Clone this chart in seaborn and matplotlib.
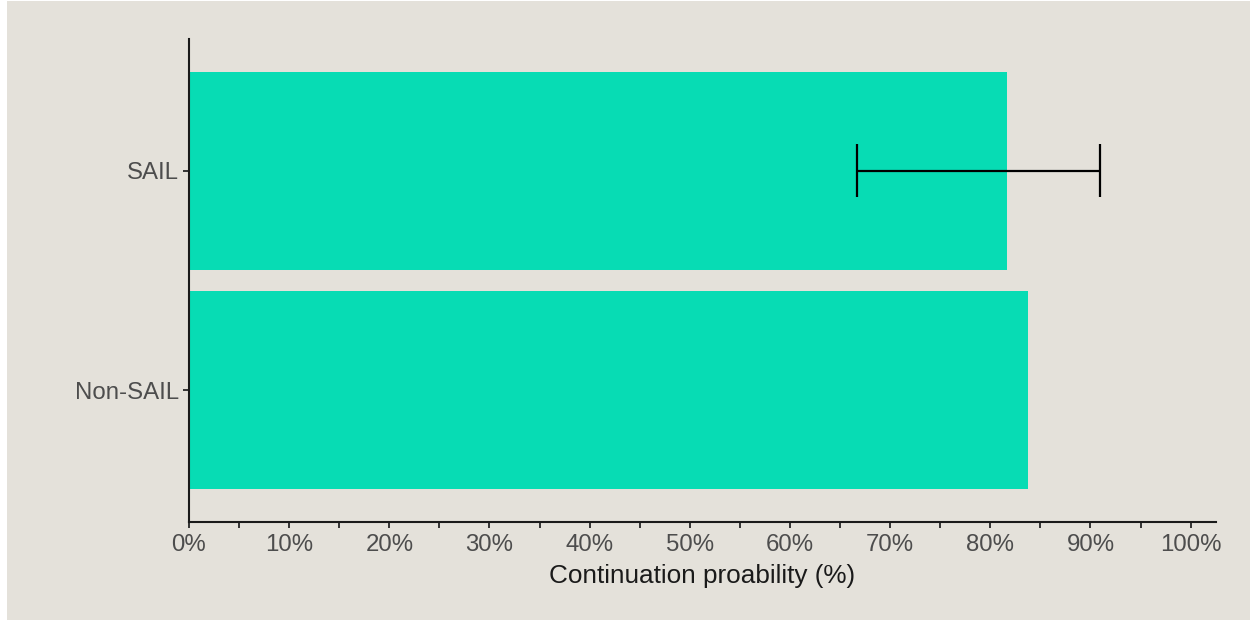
import numpy as np
import pandas as pd
import matplotlib
matplotlib.use("Agg")
import matplotlib.pyplot as plt
import seaborn as sns
from matplotlib.patches import Rectangle

# Continuation probability by group (%)
groups = ["SAIL", "Non-SAIL"]
probability = [81.7, 83.8]
ci_lower = [66.7, np.nan]
ci_upper = [90.9, np.nan]
x_ticks = list(range(0, 101, 10))
x_tick_labels = [f"{t}%" for t in x_ticks]

BG = "#e4e1da"
BAR = "#07dcb4"

sns.set_theme(style="ticks")
plt.rcParams["font.family"] = ["Liberation Sans", "DejaVu Sans"]

df = pd.DataFrame({"group": groups, "probability": probability,
                   "lo": ci_lower, "hi": ci_upper})

fig = plt.figure(figsize=(12.5, 6.2), dpi=100, facecolor="white")
fig.patches.append(Rectangle((7 / 1250, 0), 1 - 7 / 1250, 1 - 1 / 620,
                             transform=fig.transFigure, facecolor=BG,
                             edgecolor="none", zorder=-10))
ax = fig.add_axes([189 / 1250, 1 - 522 / 620, (1215.7 - 189) / 1250, (522 - 39) / 620])
ax.set_facecolor(BG)

sns.barplot(data=df, x="probability", y="group", order=groups, orient="h",
            color=BAR, saturation=1, width=0.9, errorbar=None, ax=ax,
            edgecolor="none", linewidth=0)

# Confidence interval where available
ci = df.dropna(subset=["lo", "hi"])
ypos = [groups.index(g) for g in ci["group"]]
ax.hlines(ypos, ci["lo"], ci["hi"], color="black", lw=1.6, zorder=5)
for y, lo, hi in zip(ypos, ci["lo"], ci["hi"]):
    ax.vlines([lo, hi], y - 0.12, y + 0.12, color="black", lw=1.6, zorder=5)

ax.set_xlim(0, 102.5)
ax.set_ylim(1.6, -0.6)
ax.set_xticks(x_ticks)
ax.set_xticklabels(x_tick_labels)
ax.set_xticks([t + 5 for t in x_ticks[:-1]], minor=True)

for s in ["top", "right"]:
    ax.spines[s].set_visible(False)
for s in ["left", "bottom"]:
    ax.spines[s].set_color("#1a1a1a")
    ax.spines[s].set_linewidth(1.5)

ax.tick_params(axis="both", which="both", length=4.3, width=1.4, color="#333333",
               labelcolor="#4d4d4d", labelsize=17.3)
ax.tick_params(axis="x", which="both", pad=4)
ax.tick_params(axis="y", pad=3)

ax.set_ylabel("")
ax.set_xlabel("Continuation proability (%)", fontsize=18.8, color="#1a1a1a", labelpad=6)

fig.savefig("out.png", dpi=100, facecolor=fig.get_facecolor())
